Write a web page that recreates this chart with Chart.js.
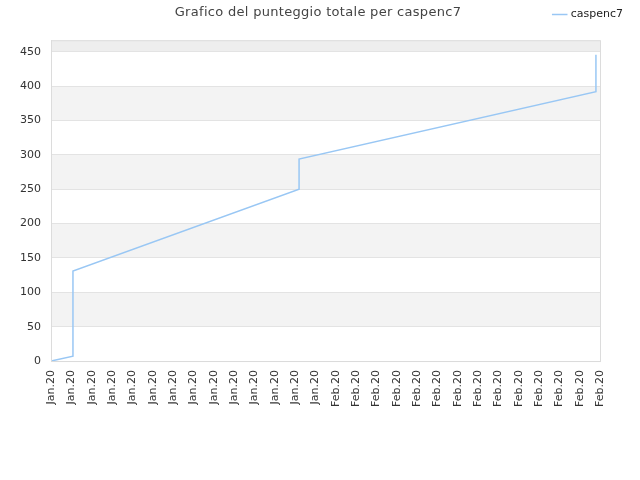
<!DOCTYPE html>
<html lang="it">
<head>
    <meta charset="UTF-8">
    <title>Grafico del punteggio totale per caspenc7</title>
    <script src="https://cdn.jsdelivr.net/npm/chart.js@4/dist/chart.umd.min.js"></script>
    <style>
        body {
            margin: 0;
            background-color: white;
            font-family: "DejaVu Sans", sans-serif;
        }
        .wrap {
            position: relative;
            width: 640px;
            height: 480px;
        }
        .title {
            position: absolute;
            top: 4px;
            left: 0;
            width: 636px;
            text-align: center;
            font-size: 13px;
            color: #444;
            letter-spacing: 0.3px;
        }
    </style>
</head>
<body>
    <div class="wrap">
        <div class="title">Grafico del punteggio totale per caspenc7</div>
        <canvas id="chart" width="640" height="480"></canvas>
    </div>

    <script>
        const xLabels = ['Jan.20', 'Jan.20', 'Jan.20', 'Jan.20', 'Jan.20', 'Jan.20', 'Jan.20',
                         'Jan.20', 'Jan.20', 'Jan.20', 'Jan.20', 'Jan.20', 'Jan.20', 'Jan.20',
                         'Feb.20', 'Feb.20', 'Feb.20', 'Feb.20', 'Feb.20', 'Feb.20', 'Feb.20',
                         'Feb.20', 'Feb.20', 'Feb.20', 'Feb.20', 'Feb.20', 'Feb.20', 'Feb.20'];
        // position along the date axis (in label steps) and total score
        const scoreX = [0, 1.08, 1.08, 12.2, 12.2, 26.8, 26.8];
        const scoreY = [0, 7, 131, 250, 294, 392, 446];
        const yTicks = [0, 50, 100, 150, 200, 250, 300, 350, 400, 450];
        const seriesName = 'caspenc7';

        // alternating horizontal bands + frame round the plot
        const bandsPlugin = {
            id: 'bands',
            beforeDraw(chart) {
                const { ctx, chartArea: a, scales: { y } } = chart;
                ctx.save();
                for (let v = 0, k = 0; v < y.max; v += 50, k++) {
                    if (k % 2 === 0) continue;
                    const top = y.getPixelForValue(Math.min(v + 50, y.max));
                    const bottom = y.getPixelForValue(v);
                    ctx.fillStyle = v >= 450 ? '#eeeeee' : '#f3f3f3';
                    ctx.fillRect(a.left, top, a.right - a.left, bottom - top);
                }
                ctx.restore();
            },
            afterDraw(chart) {
                const { ctx, chartArea: a } = chart;
                ctx.save();
                ctx.strokeStyle = '#dcdcdc';
                ctx.lineWidth = 1;
                ctx.strokeRect(a.left + 0.5, a.top + 0.5, a.right - a.left, a.bottom - a.top);
                ctx.restore();
            }
        };

        const points = scoreX.map((x, i) => ({ x: x, y: scoreY[i] }));

        new Chart(document.getElementById('chart'), {
            type: 'line',
            data: {
                datasets: [{
                    label: seriesName,
                    data: points,
                    borderColor: '#99c7f4',
                    backgroundColor: '#99c7f4',
                    borderWidth: 1.5,
                    pointRadius: 0,
                    tension: 0,
                    fill: false,
                    yAxisID: 'y'
                }]
            },
            options: {
                responsive: false,
                animation: false,
                layout: { padding: { left: 0, right: 8, top: 0, bottom: 64 } },
                plugins: {
                    // empty title used only as a spacer under the legend
                    title: {
                        display: true,
                        text: ' ',
                        font: { size: 1 },
                        padding: { top: 0, bottom: 9 }
                    },
                    tooltip: { enabled: false },
                    legend: {
                        position: 'top',
                        align: 'end',
                        weight: 3000,
                        labels: {
                            usePointStyle: true,
                            pointStyle: 'line',
                            boxWidth: 12,
                            padding: 9,
                            color: '#222',
                            font: { family: 'DejaVu Sans', size: 11 }
                        }
                    }
                },
                scales: {
                    x: {
                        type: 'linear',
                        min: 0,
                        max: 27,
                        grid: { display: false, drawTicks: false },
                        border: { color: '#dcdcdc' },
                        ticks: {
                            stepSize: 1,
                            autoSkip: false,
                            maxRotation: 90,
                            minRotation: 90,
                            padding: 9,
                            color: '#333',
                            font: { family: 'DejaVu Sans', size: 11 },
                            callback: v => xLabels[v]
                        }
                    },
                    y: {
                        min: 0,
                        max: 467,
                        grid: { color: '#e3e3e3', drawTicks: false },
                        border: { color: '#dcdcdc' },
                        afterBuildTicks(scale) {
                            scale.ticks = yTicks.map(v => ({ value: v }));
                        },
                        ticks: {
                            autoSkip: false,
                            padding: 10,
                            color: '#333',
                            font: { family: 'DejaVu Sans', size: 11 }
                        },
                        afterFit(scale) { scale.width = 51; }
                    },
                    // blank right-hand axis, only to keep 40px free on the right of the plot
                    yRight: {
                        position: 'right',
                        min: 0,
                        max: 467,
                        grid: { display: false, drawTicks: false },
                        border: { display: false },
                        ticks: { display: false },
                        afterFit(scale) { scale.width = 32; }
                    }
                }
            },
            plugins: [bandsPlugin]
        });
    </script>
</body>
</html>
